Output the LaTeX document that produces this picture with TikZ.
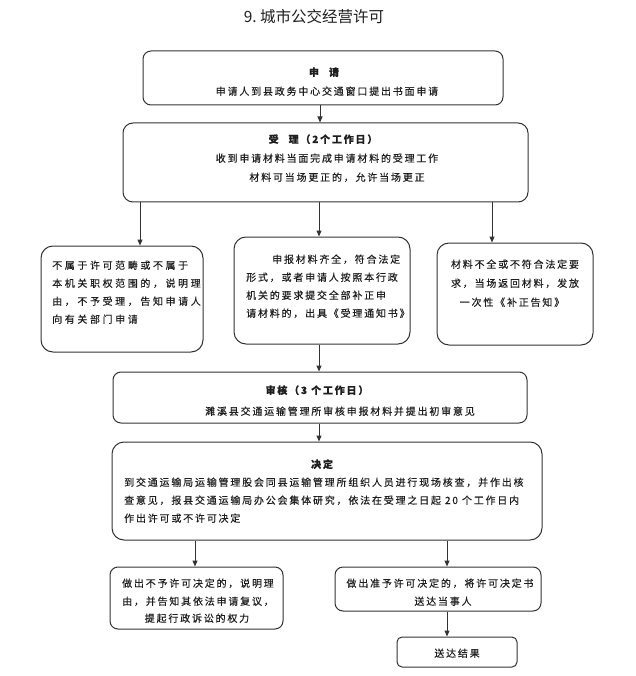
\documentclass[tikz,border=0pt]{standalone}
\usepackage{fontspec}
\setmainfont{Noto Sans CJK SC}
\newfontfamily\bodyf{Noto Sans CJK SC}[LetterSpace=18,FakeBold=0.3]
\newfontfamily\widef{Noto Sans CJK SC}[LetterSpace=26,FakeBold=0.3]
\newfontfamily\titlef{Noto Sans CJK SC}
\usetikzlibrary{arrows.meta}
\definecolor{ln}{HTML}{333333}
\definecolor{tx}{HTML}{1E1E1E}
\begin{document}
\begin{tikzpicture}[x=1pt,y=-1pt,
  box/.style={draw=ln,line width=1pt,rounded corners=#1,inner sep=0pt},
  box/.default=8pt,
  arr/.style={draw=ln,line width=1pt,-{Triangle[length=6pt,width=5pt]}},
  txt/.style={text=tx,font=\bodyf\fontsize{10}{17}\selectfont,inner sep=0pt},
  wtxt/.style={text=tx,font=\widef\fontsize{10}{17}\selectfont,inner sep=0pt},
  ttl/.style={text=tx,font=\bodyf\bfseries\fontsize{10}{17}\selectfont,inner sep=0pt}]
\path[use as bounding box,fill=white] (0,0) rectangle (635,676);

% title
\node[text=tx,font=\titlef\fontsize{15.5}{17}\selectfont,inner sep=0pt] (title) at (314,17) {9.\ 城市公交经营许可};

% boxes
\node[box=8pt,minimum width=360pt,minimum height=54pt] (b1) at (323,78) {};
\node[box=10pt,minimum width=405pt,minimum height=79pt] (b2) at (325.5,162.5) {};
\node[box=12pt,minimum width=162pt,minimum height=106pt] (bL) at (122,299) {};
\node[box=12pt,minimum width=176pt,minimum height=107pt] (bM) at (322,290.5) {};
\node[box=12pt,minimum width=156pt,minimum height=102pt] (bR) at (515,294) {};
\node[box=8pt,minimum width=414pt,minimum height=51pt] (b4) at (320,397.5) {};
\node[box=12pt,minimum width=430pt,minimum height=98pt] (b5) at (327,491) {};
\node[box=8pt,minimum width=173pt,minimum height=62pt] (b6L) at (196.5,598) {};
\node[box=8pt,minimum width=206pt,minimum height=44pt] (b6R) at (438,589) {};
\node[box=5pt,minimum width=120pt,minimum height=30pt] (b7) at (457,652) {};

% texts
\node[ttl,anchor=base] (t1a) at (324,76) {申\quad 请};
\node[txt,anchor=base] (t1b) at (327,95) {申请人到县政务中心交通窗口提出书面申请};

\node[ttl,anchor=base] (t2a) at (323,143) {受\quad 理（2个工作日）};
\node[txt,anchor=base] (t2b) at (327,162) {收到申请材料当面完成申请材料的受理工作};
\node[txt,anchor=base] (t2c) at (337,181) {材料可当场更正的，允许当场更正};

\node[wtxt,anchor=base west] (tLa) at (52,269) {不属于许可范畴或不属于};
\node[wtxt,anchor=base west] (tLb) at (52,287) {本机关职权范围的，说明理};
\node[wtxt,anchor=base west] (tLc) at (52,305) {由，不予受理，告知申请人};
\node[wtxt,anchor=base west] (tLd) at (52,323) {向有关部门申请};

\node[txt,anchor=base west] (tMa) at (272,263) {申报材料齐全，符合法定};
\node[txt,anchor=base west] (tMb) at (246,281) {形式，或者申请人按照本行政};
\node[txt,anchor=base west] (tMc) at (246,299) {机关的要求提交全部补正申};
\node[txt,anchor=base west] (tMd) at (246,317) {请材料的，出具《受理通知书》};

\node[txt,anchor=base] (tRa) at (515,268) {材料不全或不符合法定要};
\node[txt,anchor=base] (tRb) at (515,287) {求，当场返回材料，发放};
\node[txt,anchor=base] (tRc) at (512,306) {一次性《补正告知》};

\node[ttl,anchor=base] (t4a) at (317,394) {审核（3 个工作日）};
\node[txt,anchor=base] (t4b) at (340,415) {濉溪县交通运输管理所审核申报材料并提出初审意见};

\node[ttl,anchor=base] (t5a) at (322,468) {决定};
\node[txt,anchor=base west] (t5b) at (124,486) {到交通运输局运输管理股会同县运输管理所组织人员进行现场核查，并作出核};
\node[txt,anchor=base west] (t5c) at (124,504) {查意见，报县交通运输局办公会集体研究，依法在受理之日起 20 个工作日内};
\node[txt,anchor=base west] (t5d) at (124,522) {作出许可或不许可决定};

\node[txt,anchor=base] (t6a) at (198,587) {做出不予许可决定的，说明理};
\node[txt,anchor=base] (t6b) at (198,605) {由，并告知其依法申请复议，};
\node[txt,anchor=base] (t6c) at (197,622) {提起行政诉讼的权力};

\node[txt,anchor=base] (t6d) at (440,587) {做出准予许可决定的，将许可决定书};
\node[txt,anchor=base] (t6e) at (443,605) {送达当事人};

\node[txt,anchor=base] (t7) at (457,657) {送达结果};

% x positions of connectors
\coordinate (x1) at (320,0);
\coordinate (xL) at (140,0);
\coordinate (xM) at (319,0);
\coordinate (xR) at (492,0);
\coordinate (x5L) at (195,0);
\coordinate (x5R) at (447,0);

% connectors
\draw[arr] (b1.south -| x1) -- (b2.north -| x1);
\draw[arr] (b2.south -| xL) -- (bL.north -| xL);
\draw[arr] (b2.south -| xM) -- (bM.north -| xM);
\draw[arr] (b2.south -| xR) -- (bR.north -| xR);
\draw[arr] (bM.south -| xM) -- (b4.north -| xM);
\draw[arr] (b4.south -| xM) -- (b5.north -| xM);
\draw[arr] (b5.south -| x5L) -- (b6L.north -| x5L);
\draw[arr] (b5.south -| x5R) -- (b6R.north -| x5R);
\draw[arr] (b6R.south -| x5R) -- (b7.north -| x5R);
\end{tikzpicture}
\end{document}
